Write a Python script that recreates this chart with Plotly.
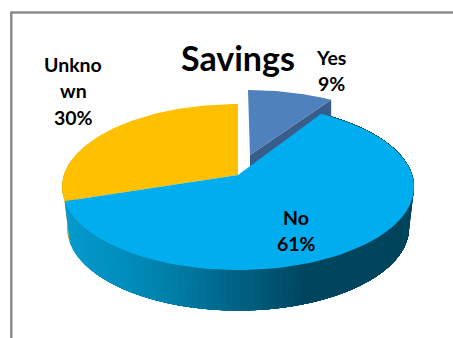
import numpy as np
import plotly.graph_objects as go

# Chart content
title = "Savings"
categories = ["Yes", "No", "Unknown"]
shares = [9, 61, 30]
label_lines = [["Yes", "9%"], ["No", "61%"], ["Unkno", "wn", "30%"]]
top_colors = ["#4F81BD", "#00AEEF", "#FFC000"]
side_colors = ["#385D8A", None, "#C79500"]

# Pie projection in pixel space
CX, CY, RX, RY = 238.0, 187.0, 176.0, 83.0
APEX_LIFT = 12.0
DEPTH = 40.5
BOTTOM_SCALE = 0.972
EXPLODE = (10.0, -14.0)
EXPLODE_APEX = (12.0, -20.0)
k = APEX_LIFT * 2 / (2 * RY)
A = RX * np.sqrt(1 - k * k)


def project(clock_deg, radius=1.0, dx=0.0, dy=0.0, xscale=1.0):
    th = np.radians(np.asarray(clock_deg, dtype=float))
    u, v = radius * np.sin(th), radius * np.cos(th)
    w = 1 + k * v
    return CX + xscale * A * u / w + dx, CY - (RY * v + APEX_LIFT) / w + dy


def sector(start, end, dx=0.0, dy=0.0, apex_shift=None):
    ang = np.linspace(start, end, 90)
    ex, ey = project(ang, dx=dx, dy=dy)
    sx, sy = apex_shift if apex_shift else (dx, dy)
    ax, ay = project(0, radius=0, dx=sx, dy=sy)
    return np.r_[ax, ex, ax], np.r_[ay, ey, ay]


def mix(x):
    stops_x = [60, 120, 170, 225, 260, 300, 420]
    r = [8, 0, 0, 0, 0, 0, 0]
    g = [156, 143, 127, 102, 88, 70, 68]
    b = [208, 190, 168, 138, 118, 95, 92]
    return "rgb(%d,%d,%d)" % tuple(int(np.interp(x, stops_x, c)) for c in (r, g, b))


edges = np.cumsum([0] + shares) / sum(shares) * 360
yes_a, yes_b = edges[0], edges[1]
no_a, no_b = edges[1], edges[2]
unk_a, unk_b = edges[2], edges[3]

fig = go.Figure()


def poly(x, y, fill):
    fig.add_trace(go.Scatter(x=x, y=y, mode="lines", fill="toself", fillcolor=fill,
                             line=dict(color=fill, width=0), hoverinfo="skip",
                             showlegend=False))


# Rim of the Unknown slice, just visible at the far left
ang = np.linspace(unk_a, unk_a + 30, 30)
tx, ty = project(ang)
bx, by = project(ang, dy=DEPTH, xscale=BOTTOM_SCALE)
poly(np.r_[tx, bx[::-1]], np.r_[ty, by[::-1]], side_colors[2])

# Rim of the No slice: each band runs from its left edge all the way round to the
# right, and the next band paints over it, so no seams show between shades
band_starts = np.linspace(no_b, no_a + 40, 90)
for start in band_starts:
    ang = np.linspace(start, no_a, 120)
    tx, ty = project(ang)
    bx, by = project(ang, dy=DEPTH, xscale=BOTTOM_SCALE)
    poly(np.r_[tx, bx[::-1]], np.r_[ty, by[::-1]], mix(bx[0]))

# Pulled-out Yes slice: cut face, then top
ax, ay = project(0, radius=0, dx=EXPLODE_APEX[0], dy=EXPLODE_APEX[1])
ex, ey = project(yes_b, dx=EXPLODE[0], dy=EXPLODE[1])
poly([ax, ex, ex, ax], [ay, ey, ey + 17, ay + 17], side_colors[0])
poly(*sector(yes_a, yes_b, EXPLODE[0], EXPLODE[1], EXPLODE_APEX), top_colors[0])

# Remaining top faces
poly(*sector(unk_a, unk_b), top_colors[2])
poly(*sector(no_a, no_b), top_colors[1])

FONT_STACK = "Lato, Carlito, sans-serif"
LABEL_FONT = dict(family=FONT_STACK, size=19.5, color="black")
label_pos = [(331, 57), (296, 217), (73, 64)]
annotations = [dict(x=238, y=57, text="<b>%s</b>" % title, showarrow=False,
                    font=dict(family=FONT_STACK, size=34, color="black"))]
for lines, (lx, ly) in zip(label_lines, label_pos):
    for i, line in enumerate(lines):
        annotations.append(dict(x=lx, y=ly + i * 26.5, text="<b>%s</b>" % line,
                                showarrow=False, font=LABEL_FONT))

# Chart-area frame, open to the right and bottom
frame = dict(type="line", line=dict(color="#8C8C8C", width=2.5))
shapes = [dict(frame, x0=11.3, x1=453, y0=12.6, y1=12.6),
          dict(frame, x0=11.3, x1=11.3, y0=11.4, y1=338)]

fig.update_layout(
    width=453, height=338, margin=dict(l=0, r=0, t=0, b=0),
    paper_bgcolor="white", plot_bgcolor="white", showlegend=False,
    xaxis=dict(range=[0, 453], visible=False, fixedrange=True),
    yaxis=dict(range=[338, 0], visible=False, fixedrange=True),
    annotations=annotations, shapes=shapes,
)
fig.write_html("out.html", config=dict(displayModeBar=False))
